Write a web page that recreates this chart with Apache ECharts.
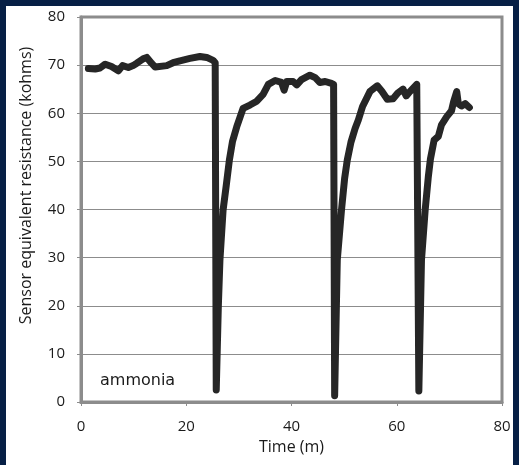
<!DOCTYPE html>
<html>
<head>
<meta charset="utf-8">
<script src="https://cdn.jsdelivr.net/npm/echarts@6.0.0/dist/echarts.min.js"></script>
<style>
  html, body { margin: 0; padding: 0; background: #061f45; }
  #frame { position: absolute; left: 6px; top: 6px; width: 507px; height: 459px; background: #ffffff; }
  #chart { position: absolute; left: 0; top: 0; width: 519px; height: 465px; }
</style>
</head>
<body>
<div id="frame"></div>
<div id="chart"></div>
<script>
// time in minutes
const timeMin = [
  1.4, 2.7, 3.6, 4.6, 5.8, 7.1, 7.9, 9.0, 9.9, 10.6, 11.8, 12.5, 13.4, 14.1, 16.3, 17.5,
  18.8, 20.7, 22.6, 23.9, 25.1, 25.5,
  25.7, 26.1, 26.4, 27.0, 27.6, 28.2, 28.8, 29.6, 30.8, 32.1, 33.4, 34.6, 35.6, 36.9,
  38.1, 38.6, 39.1, 40.3, 41.0, 41.9, 43.5, 44.5, 45.4, 46.4, 47.6, 48.0,
  48.2, 48.7, 49.5, 50.1, 50.6, 51.3, 52.1, 52.7, 53.5, 54.9, 56.3, 57.2, 58.2, 59.3,
  60.2, 61.2, 61.8, 62.5, 63.8, 64.0,
  64.2, 64.7, 65.4, 66.0, 66.4, 67.1, 67.9, 68.5, 69.5, 70.4, 70.8, 71.4, 71.7, 72.3,
  73.0, 73.8
]
// sensor equivalent resistance (kohms)
const resistance = [
  69.3, 69.2, 69.4, 70.2, 69.7, 68.8, 69.9, 69.5, 69.9, 70.4, 71.3, 71.6, 70.4, 69.6, 69.9, 70.5,
  70.9, 71.4, 71.8, 71.6, 71.0, 70.5,
  2.5, 20.0, 29.5, 39.9, 45.0, 50.3, 54.2, 57.2, 61.0, 61.7, 62.5, 63.9, 66.0, 66.8,
  66.4, 64.8, 66.6, 66.6, 65.9, 67.0, 67.9, 67.4, 66.4, 66.6, 66.2, 66.0,
  1.3, 29.5, 39.9, 46.5, 50.3, 54.0, 56.9, 58.6, 61.4, 64.5, 65.7, 64.5, 62.9, 63.0,
  64.2, 65.0, 63.6, 64.5, 66.0, 65.8,
  2.3, 29.5, 39.9, 46.8, 50.5, 54.4, 55.2, 57.6, 59.3, 60.5, 62.4, 64.5, 62.0, 61.5,
  62.0, 61.2
]
const xTicks = [0, 20, 40, 60, 80]
const yTicks = [0, 10, 20, 30, 40, 50, 60, 70, 80]

const LINE_COLOR = '#262626'
const GRID_COLOR = '#8c8c8c'
const LABEL_FONT = "'Open Sans', 'Noto Sans', sans-serif"

const chart = echarts.init(document.getElementById('chart'), null, { renderer: 'canvas' })
chart.setOption({
  animation: false,
  backgroundColor: 'transparent',
  title: {
    text: 'ammonia',
    left: 95,
    top: 368,
    textStyle: {
      fontFamily: "'DejaVu Sans', sans-serif",
      fontSize: 16,
      fontWeight: 'normal',
      color: '#1a1a1a',
    },
  },
  grid: {
    left: 81,
    top: 17,
    width: 421,
    height: 385,
    show: true,
    borderColor: GRID_COLOR,
    borderWidth: 3,
  },
  xAxis: {
    type: 'value',
    min: xTicks[0],
    max: xTicks[xTicks.length - 1],
    interval: 20,
    name: 'Time (m)',
    nameLocation: 'middle',
    nameGap: 37,
    nameTextStyle: { fontFamily: LABEL_FONT, fontSize: 16, color: '#1a1a1a' },
    axisLine: { show: true, lineStyle: { color: GRID_COLOR, width: 3 } },
    axisTick: { show: true, length: 4, lineStyle: { color: GRID_COLOR, width: 1 } },
    axisLabel: { fontFamily: LABEL_FONT, fontSize: 15, color: '#1a1a1a', margin: 17 },
    splitLine: { show: false },
  },
  yAxis: {
    type: 'value',
    min: yTicks[0],
    max: yTicks[yTicks.length - 1],
    interval: 10,
    name: 'Sensor equivalent resistance (kohms)',
    nameLocation: 'middle',
    nameGap: 47,
    nameTextStyle: { fontFamily: LABEL_FONT, fontSize: 16, color: '#1a1a1a', padding: [0, 0, 0, 48] },
    axisLine: { show: true, lineStyle: { color: GRID_COLOR, width: 3 } },
    axisTick: { show: true, length: 4, lineStyle: { color: GRID_COLOR, width: 1 } },
    axisLabel: { fontFamily: LABEL_FONT, fontSize: 15, color: '#1a1a1a', margin: 16 },
    splitLine: { show: true, lineStyle: { color: GRID_COLOR, width: 1 } },
  },
  series: [
    {
      type: 'line',
      data: timeMin.map((t, i) => [t, resistance[i]]),
      showSymbol: false,
      symbol: 'none',
      smooth: false,
      lineStyle: { color: LINE_COLOR, width: 7, cap: 'round', join: 'round' },
    },
  ],
})
</script>
</body>
</html>
